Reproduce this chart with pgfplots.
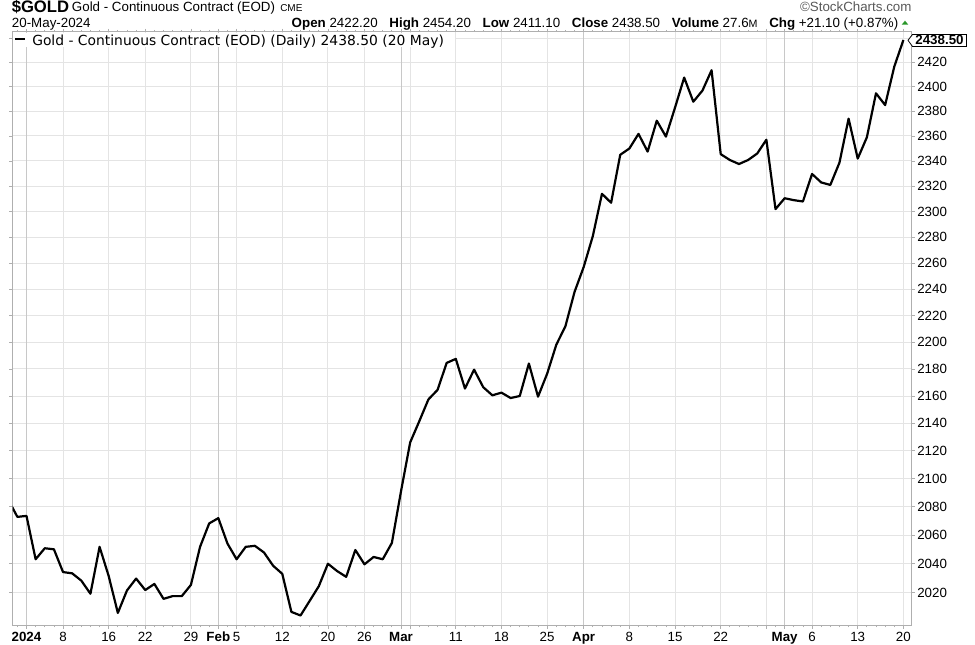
\documentclass[border=0pt]{standalone}
\usepackage{fontspec}
\setmainfont{Liberation Sans}
\newfontfamily\verd{DejaVu Sans}
\usepackage{pgfplots}
\pgfplotsset{compat=1.18}
\definecolor{gridgray}{RGB}{228,228,228}
\definecolor{monthgray}{RGB}{200,200,200}
\definecolor{framegray}{RGB}{175,175,175}
\definecolor{upgreen}{RGB}{40,150,40}

% gold continuous contract, trading day index (2 Jan 2024 = 0)
\pgfplotstableread{
i close
-2 2085.0
-1 2072.8
0 2073.5
1 2043.1
2 2050.8
3 2050.1
4 2034.2
5 2033.3
6 2028.3
7 2019.2
8 2051.8
9 2031.4
10 2006.1
11 2021.5
12 2029.7
13 2021.8
14 2026.0
15 2015.7
16 2017.6
17 2017.6
18 2025.3
19 2051.8
20 2068.2
21 2071.9
22 2054.1
23 2043.1
24 2051.8
25 2052.5
26 2047.8
27 2038.6
28 2033.0
29 2006.8
30 2004.3
31 2014.3
32 2024.4
33 2040.0
34 2034.9
35 2030.9
36 2049.6
37 2039.6
38 2044.7
39 2043.1
40 2054.5
41 2091.0
42 2126.0
43 2141.5
44 2157.5
45 2164.5
46 2184.5
47 2187.5
48 2165.5
49 2179.5
50 2166.5
51 2160.5
52 2162.5
53 2158.5
54 2160.0
55 2184.0
56 2159.5
57 2176.5
58 2198.0
59 2212.0
60 2238.0
61 2257.0
62 2281.0
63 2314.0
64 2307.0
65 2345.0
66 2350.0
67 2361.7
68 2347.5
69 2372.4
70 2359.5
71 2383.0
72 2407.5
73 2387.8
74 2396.8
75 2413.5
76 2345.5
77 2340.8
78 2337.6
79 2340.8
80 2346.0
81 2357.0
82 2302.0
83 2310.5
84 2309.0
85 2308.0
86 2329.7
87 2323.0
88 2321.0
89 2338.7
90 2374.0
91 2342.0
92 2359.0
93 2394.6
94 2385.0
95 2416.5
96 2438.5
}\gold

\begin{document}
\fontsize{10pt}{12pt}\selectfont
\begin{tikzpicture}
% page = 975 x 644 px, 1 px = 0.75pt, origin at plot corner
\begin{scope}[shift={(-9.525pt,469.125pt)},x=0.75pt,y=-0.75pt]
\useasboundingbox (0,0) rectangle (975,644);
\end{scope}

\begin{axis}[
    at={(0,0)}, anchor=south west,
    scale only axis,
    width=674.25pt, height=445.125pt,
    xmin=-1.511, xmax=96.91,
    % log price scale, done by hand to keep numbers small
    y coord trafo/.code={\pgfmathparse{100*ln(#1/2000)}},
    y coord inv trafo/.code={\pgfmathparse{2000*exp(#1/100)}},
    ymin=1997.7, ymax=2445.1,
    axis line style={draw=framegray, line width=0.75pt},
    tick align=outside,
    tick style={draw=framegray, line width=0.6pt},
    major tick length=2.5pt, minor tick length=1.5pt,
    xtick={4,9,13,18,23,28,33,37,42,47,52,57,66,71,76,81,86,91,96},
    xticklabels={8,16,22,29,5,12,20,26,,11,18,25,8,15,22,,6,13,20},
    extra x ticks={0,21,41,61,83},
    extra x tick labels={\textbf{2024},\textbf{Feb},\textbf{Mar},\textbf{Apr},\textbf{May}},
    extra x tick style={grid=major, major grid style={monthgray, line width=0.75pt}},
    minor xtick={-1,0,...,96},
    xmajorgrids, ymajorgrids,
    major grid style={gridgray, line width=0.75pt},
    ytick={2020,2040,2060,2080,2100,2120,2140,2160,2180,2200,2220,2240,2260,2280,2300,2320,2340,2360,2380,2400,2420,2440},
    yticklabels={2020,2040,2060,2080,2100,2120,2140,2160,2180,2200,2220,2240,2260,2280,2300,2320,2340,2360,2380,2400,2420,},
    yticklabel pos=right,
    /pgf/number format/assume math mode=true,
    xticklabel style={anchor=base, inner sep=0pt, yshift=-9.6pt},
    yticklabel style={anchor=west, inner sep=0pt, xshift=1.5pt},
]
\addplot[black, line width=1.65pt, line join=round, mark=none] table[x=i, y=close] {\gold};
\end{axis}

\begin{scope}[shift={(-9.525pt,469.125pt)},x=0.75pt,y=-0.75pt]
% legend inside the plot
\fill[white] (13.5,32.6) rectangle (455,47.5);
\draw[black, line width=1.5pt] (15,39.5) -- (25,39.5);
\node[anchor=base west, inner sep=0pt, font=\verd\fontsize{10.4pt}{12pt}\selectfont] at (32,45.3)
  {Gold - Continuous Contract (EOD) (Daily) 2438.50 (20 May)};
% header
\node[anchor=base west, inner sep=0pt, font=\bfseries\fontsize{12.5pt}{14pt}\selectfont] at (11.5,12.8) {\$GOLD};
\node[anchor=base west, inner sep=0pt] at (71.7,12) {Gold - Continuous Contract (EOD)};
\node[anchor=base west, inner sep=0pt, font=\fontsize{7.5pt}{9pt}\selectfont] at (280,12) {CME};
\node[anchor=base west, inner sep=0pt] at (11.7,27.3) {20-May-2024};
\node[anchor=base east, inner sep=0pt] at (898.5,27.3)
  {\textbf{Open} 2422.20\hspace{6pt} \textbf{High} 2454.20\hspace{6pt} \textbf{Low} 2411.10\hspace{6pt} \textbf{Close} 2438.50\hspace{6pt} \textbf{Volume} 27.6{\fontsize{8pt}{9pt}\selectfont M}\hspace{6pt} \textbf{Chg} +21.10 (+0.87\%)};
\fill[upgreen] (901.7,24.7) -- (908.3,24.7) -- (905,20.7) -- cycle;
\node[anchor=base east, inner sep=0pt, text=black!65, font=\fontsize{10pt}{11pt}\selectfont] at (911.7,11.5) {\textcopyright StockCharts.com};
% last value tag
\draw[black, line width=0.6pt, fill=white] (908,40.3) -- (912.5,34.5) -- (966.5,34.5) -- (966.5,46.5) -- (912.5,46.5) -- cycle;
\node[anchor=base, inner sep=0pt, font=\bfseries] at (939.5,45) {2438.50};
\end{scope}
\end{tikzpicture}
\end{document}
